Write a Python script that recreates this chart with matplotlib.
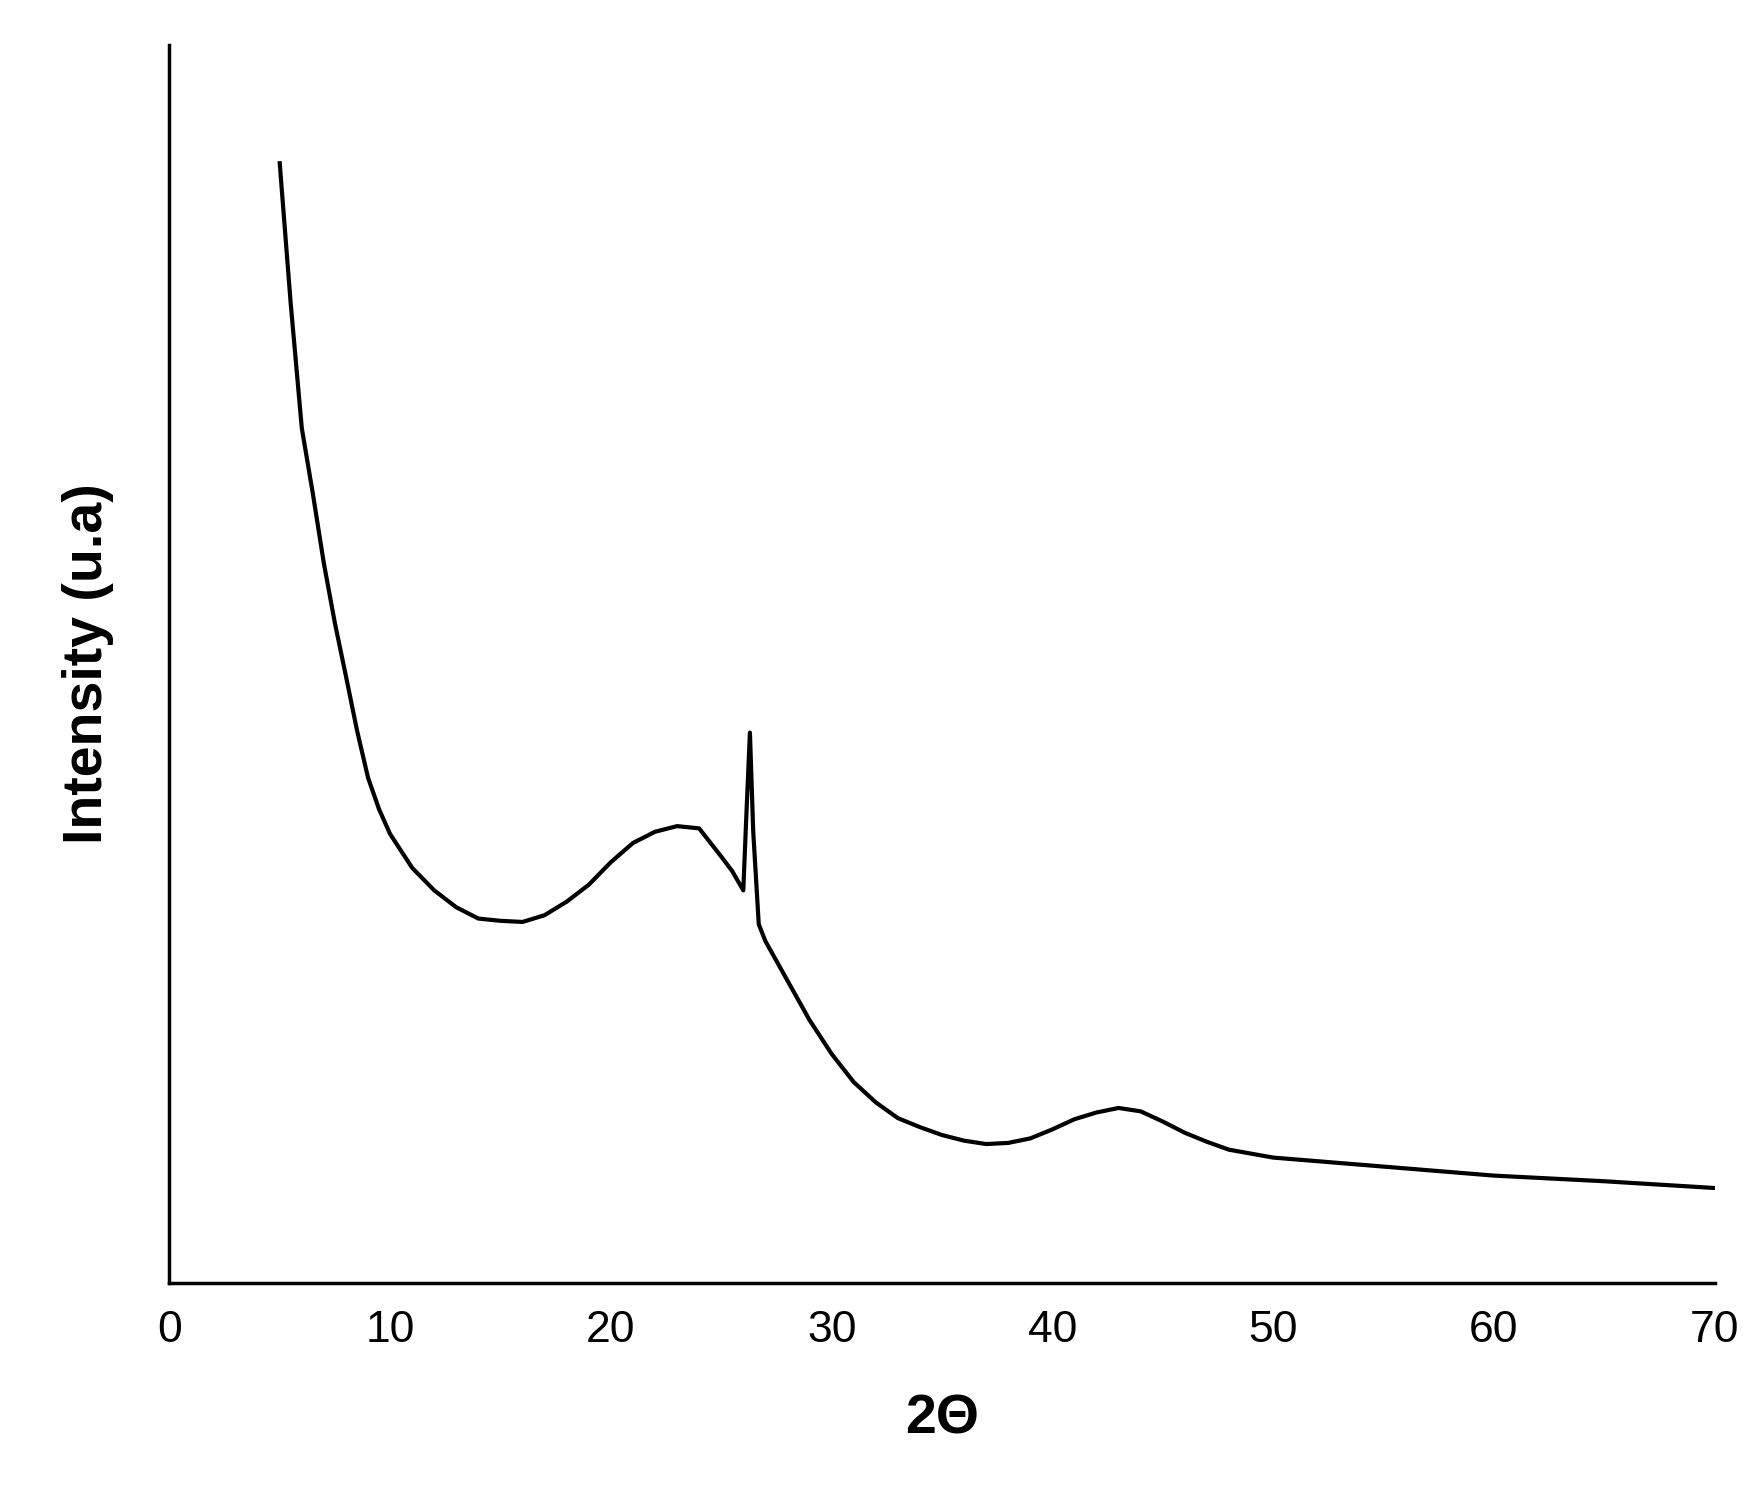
import matplotlib
matplotlib.use("Agg")
import matplotlib.pyplot as plt

two_theta = [5, 5.5, 6, 6.5, 7, 7.5, 8, 8.5, 9, 9.5, 10, 11, 12, 13, 14, 15, 16, 17, 18, 19, 20, 21, 22, 23, 24,
             25, 25.5, 26, 26.15, 26.3, 26.45, 26.7, 27, 28, 29, 30, 31, 32, 33, 34, 35, 36, 37, 38, 39, 40,
             41, 42, 43, 44, 45, 46, 47, 48, 50, 55, 60, 65, 70]
intensity = [993, 868, 758, 700, 638, 585, 538, 490, 448, 420, 398, 368, 348, 333, 323, 321, 320, 326, 338, 353,
             373, 390, 400, 405, 403, 378, 365, 348, 420, 488, 400, 318, 303, 268, 233, 203, 178, 160, 146, 138,
             131, 126, 123, 124, 128, 136, 145, 151, 155, 152, 143, 133, 125, 118, 111, 103, 95, 90, 84]

plt.rcParams['font.family'] = ['Liberation Sans', 'DejaVu Sans']
fig = plt.figure(figsize=(17.64, 14.95), dpi=100)
ax = fig.add_axes([0.096, 0.142, 0.876, 0.828])
ax.plot(two_theta, intensity, color='black', lw=3)
ax.set_xlim(0, 70)
ax.set_ylim(0, 1098)
ax.set_xticks(range(0, 71, 10))
ax.set_yticks([])
ax.tick_params(axis='x', length=0, pad=20, labelsize=32)
for s in ['top', 'right']:
    ax.spines[s].set_visible(False)
for s in ['left', 'bottom']:
    ax.spines[s].set_linewidth(2.5)
ax.set_xlabel('2Θ', fontsize=40, fontweight='bold', labelpad=30)
ax.set_ylabel('Intensity (u.a)', fontsize=40, fontweight='bold', labelpad=40)
fig.savefig('out.png', dpi=100, facecolor='white')
